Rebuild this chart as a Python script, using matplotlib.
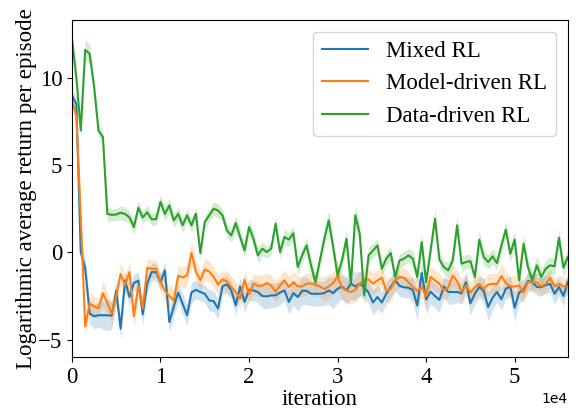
import numpy as np
import matplotlib
matplotlib.use("Agg")
import matplotlib.pyplot as plt

plt.rcParams["font.family"] = ["Liberation Serif", "DejaVu Serif"]
plt.rcParams["mathtext.fontset"] = "stix"

# iteration axis: one point every 500 iterations
step = 500
n_points = 113

mixed = [
    8.99, 8.5, 0.0, -0.9, -3.5, -3.66, -3.6, -3.6, -3.6, -3.62,
    -2.2, -4.37, -1.6, -2.55, -1.75, -1.62, -3.55, -1.8, -1.13, -1.13,
    -1.7, -1.03, -3.99, -3.1, -2.3, -2.94, -3.6, -2.3, -2.14, -2.27,
    -2.37, -2.75, -2.79, -3.22, -1.95, -1.83, -2.18, -3.03, -1.95, -2.84,
    -2.14, -2.18, -2.27, -2.5, -2.52, -2.46, -2.46, -2.3, -2.18, -2.84,
    -2.33, -2.56, -2.2, -2.2, -2.37, -2.37, -2.37, -2.33, -2.18, -2.33,
    -2.08, -1.95, -2.18, -1.79, -1.95, -1.79, -2.0, -2.3, -2.87, -2.56,
    -2.87, -2.37, -1.98, -1.6, -1.92, -2.0, -2.02, -2.16, -3.05, -1.18,
    -2.7, -2.25, -2.5, -2.72, -1.95, -2.27, -2.27, -2.27, -2.35, -1.7,
    -2.92, -2.37, -1.98, -2.2, -3.13, -2.6, -2.27, -2.68, -2.08, -1.95,
    -3.17, -2.3, -2.13, -1.64, -1.7, -1.98, -2.0, -1.87, -1.8, -2.37,
    -1.97, -2.5, -1.7,
]
model = [
    8.7, 7.8, 2.0, -4.24, -2.92, -3.1, -3.2, -2.35, -2.89, -3.52,
    -2.5, -1.24, -1.87, -1.13, -3.65, -1.89, -3.2, -0.88, -0.94, -0.94,
    -1.7, -2.2, -2.5, -2.75, -1.34, -1.43, -1.32, -0.04, -1.08, -1.6,
    -0.98, -1.1, -1.4, -1.85, -1.55, -1.65, -1.98, -2.27, -2.65, -1.58,
    -2.4, -1.79, -1.92, -1.9, -1.75, -1.9, -2.25, -1.9, -1.6, -1.98,
    -1.7, -1.95, -1.95, -1.79, -1.78, -1.85, -1.95, -2.1, -1.95, -1.75,
    -1.35, -2.02, -2.18, -2.27, -2.15, -1.79, -1.58, -1.55, -1.79, -1.6,
    -1.45, -2.2, -2.1, -1.6, -1.41, -1.45, -1.7, -1.98, -2.2, -1.97,
    -2.52, -1.41, -1.6, -1.79, -2.18, -2.0, -1.32, -1.65, -2.25, -1.9,
    -2.3, -2.0, -1.8, -2.1, -1.85, -1.8, -1.8, -1.35, -1.75, -1.95,
    -1.95, -1.9, -2.3, -1.7, -1.72, -1.72, -1.95, -1.8, -1.45, -1.95,
    -1.8, -1.95, -1.95,
]
data = [
    12.23, 10.0, 6.98, 11.6, 11.37, 9.5, 6.98, 6.6, 2.2, 2.15,
    2.17, 2.27, 2.2, 2.0, 1.45, 2.56, 2.0, 2.3, 1.9, 1.9,
    2.9, 2.2, 2.69, 1.83, 2.21, 1.55, 2.12, 1.55, 2.21, -0.04,
    1.74, 2.12, 2.5, 2.4, 2.12, 1.26, 0.97, 1.68, 0.88, 0.11,
    1.45, 0.78, -0.17, 0.21, 0.02, 0.21, 1.64, 0.02, 0.88, 0.73,
    1.1, -0.84, -0.17, 0.4, -0.74, -1.7, -0.46, 0.78, 1.83, 0.31,
    -1.32, -0.46, 0.78, -1.79, 2.12, 1.07, -2.46, -0.17, 0.11, 0.4,
    -0.94, -0.36, -0.04, -1.41, -0.46, -0.36, -0.17, -0.36, -1.41, 0.59,
    -1.7, 0.11, 1.93, -0.42, -0.84, -1.03, -0.46, 1.55, -0.65, -0.55,
    -0.5, -1.41, 0.73, -0.27, -0.55, -0.23, -0.61, 0.4, 1.3, -0.08,
    0.73, -1.6, 0.5, -0.84, -1.6, -0.74, -1.41, -0.94, -0.74, -0.8,
    0.84, -0.88, -0.27,
]

# half-width of the shaded band around each curve
mixed_band = [
    0.3, 0.4, 0.6, 0.6, 0.6, 0.7, 0.7, 0.8, 0.9, 0.8,
    0.6, 0.6, 0.6, 0.5, 0.5, 0.5, 0.6, 0.5, 0.5, 0.5,
    0.5, 0.5, 0.6, 0.6, 0.5, 0.6, 0.6, 0.6, 0.5, 0.5,
    0.5, 0.6, 0.6, 0.6, 0.5, 0.5, 0.5, 0.6, 0.5, 0.6,
    0.6, 0.6, 0.6, 0.7, 0.7, 0.7, 0.7, 0.7, 0.6, 0.7,
    0.7, 0.8, 0.8, 0.8, 0.7, 0.7, 0.7, 0.7, 0.8, 0.9,
    0.8, 0.7, 0.8, 0.9, 0.8, 0.7, 0.7, 0.6, 0.7, 0.7,
    0.6, 0.6, 0.6, 0.6, 0.6, 0.6, 0.6, 0.7, 0.9, 0.8,
    0.8, 0.7, 0.7, 0.7, 0.6, 0.7, 0.7, 0.6, 0.6, 0.6,
    0.7, 0.6, 0.6, 0.7, 0.8, 0.7, 0.6, 0.6, 0.6, 0.6,
    0.8, 0.6, 0.6, 0.5, 0.5, 0.5, 0.5, 0.5, 0.5, 0.6,
    0.5, 0.6, 0.5,
]
model_band = [
    0.3, 0.4, 0.6, 0.5, 0.6, 0.6, 0.6, 0.7, 0.6, 0.6,
    0.6, 0.6, 0.6, 0.6, 0.6, 0.6, 0.6, 0.5, 0.5, 0.5,
    0.5, 0.6, 0.6, 0.6, 0.6, 0.6, 0.6, 0.7, 0.6, 0.6,
    0.6, 0.6, 0.6, 0.6, 0.5, 0.6, 0.6, 0.6, 0.6, 0.6,
    0.6, 0.6, 0.6, 0.6, 0.6, 0.6, 0.6, 0.6, 0.6, 0.6,
    0.6, 0.6, 0.6, 0.6, 0.6, 0.6, 0.6, 0.7, 0.7, 0.7,
    0.8, 0.7, 0.7, 0.7, 0.7, 0.7, 0.7, 0.6, 0.6, 0.6,
    0.6, 0.7, 0.7, 0.6, 0.6, 0.6, 0.6, 0.6, 0.7, 0.6,
    0.7, 0.6, 0.6, 0.6, 0.6, 0.6, 0.6, 0.6, 0.7, 0.6,
    0.6, 0.6, 0.6, 0.6, 0.6, 0.6, 0.6, 0.7, 0.6, 0.6,
    0.6, 0.6, 0.6, 0.6, 0.5, 0.5, 0.5, 0.5, 0.5, 0.5,
    0.5, 0.5, 0.5,
]
data_band = [
    0.3, 0.5, 0.4, 0.6, 0.5, 0.5, 0.4, 0.4, 0.4, 0.35,
    0.35, 0.4, 0.4, 0.35, 0.45, 0.4, 0.35, 0.4, 0.35, 0.35,
    0.4, 0.4, 0.45, 0.4, 0.35, 0.4, 0.35, 0.4, 0.35, 0.4,
    0.4, 0.35, 0.4, 0.4, 0.35, 0.4, 0.4, 0.45, 0.4, 0.45,
    0.4, 0.45, 0.45, 0.4, 0.35, 0.35, 0.4, 0.4, 0.45, 0.4,
    0.4, 0.5, 0.45, 0.45, 0.5, 0.5, 0.45, 0.5, 0.6, 0.5,
    0.5, 0.45, 0.55, 0.5, 0.6, 0.55, 0.5, 0.5, 0.4, 0.4,
    0.4, 0.4, 0.4, 0.45, 0.4, 0.4, 0.4, 0.45, 0.45, 0.5,
    0.5, 0.4, 0.55, 0.45, 0.4, 0.45, 0.4, 0.55, 0.45, 0.4,
    0.4, 0.45, 0.5, 0.45, 0.4, 0.45, 0.4, 0.45, 0.5, 0.45,
    0.5, 0.5, 0.5, 0.5, 0.55, 0.55, 0.5, 0.5, 0.5, 0.45,
    0.5, 0.5, 0.5,
]

labels = ["Mixed RL", "Model-driven RL", "Data-driven RL"]
colors = ["#1f77b4", "#ff7f0e", "#2ca02c"]

x = np.arange(n_points) * step

fig = plt.figure(figsize=(5.8, 4.11), dpi=100)
ax = fig.add_axes([0.124, 0.131, 0.855, 0.820])

for mean, band, label, color in zip(
    [mixed, model, data], [mixed_band, model_band, data_band], labels, colors
):
    mean = np.array(mean)
    band = np.array(band)
    ax.fill_between(x, mean - band, mean + band, color=color, alpha=0.2, linewidth=0)
    ax.plot(x, mean, color=color, linewidth=1.5, label=label)

ax.set_xlim(0, 56000)
ax.set_ylim(-6.0, 13.3)
ax.set_yticks([-5, 0, 5, 10])
ax.ticklabel_format(axis="x", style="sci", scilimits=(0, 0))
ax.xaxis.get_offset_text().set_fontsize(10)
ax.xaxis.get_offset_text().set_family("DejaVu Sans")
ax.tick_params(labelsize=16.5)

ax.set_xlabel("iteration", fontsize=16.5, labelpad=1)
ax.set_ylabel("Logarithmic average return per episode", fontsize=16.5, labelpad=1)

ax.legend(loc="upper right", fontsize=16.5)

plt.savefig("out.png", dpi=100)
